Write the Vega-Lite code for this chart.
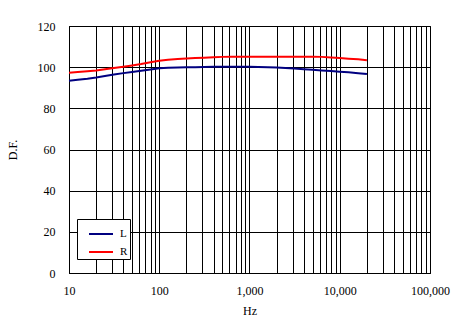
{
  "$schema": "https://vega.github.io/schema/vega-lite/v6.json",
  "width": 361,
  "height": 247,
  "autosize": {"type": "none"},
  "padding": {"left": 69, "top": 26, "right": 30, "bottom": 55},
  "background": "white",
  "config": {
    "font": "Liberation Serif",
    "view": {"stroke": "black", "strokeWidth": 1},
    "axis": {
      "labelFont": "Liberation Serif",
      "titleFont": "Liberation Serif",
      "labelFontSize": 12,
      "titleFontSize": 12,
      "titleFontWeight": "normal",
      "labelColor": "black",
      "titleColor": "black",
      "gridColor": "black",
      "gridOpacity": 1,
      "gridWidth": 1,
      "domainColor": "black",
      "ticks": false
    }
  },
  "data": {
    "values": [
      {"f": 10, "ch": "L", "v": 93.4}, {"f": 12.5, "ch": "L", "v": 93.9}, {"f": 16, "ch": "L", "v": 94.4},
      {"f": 20, "ch": "L", "v": 95.0}, {"f": 25, "ch": "L", "v": 95.7}, {"f": 31.5, "ch": "L", "v": 96.4},
      {"f": 40, "ch": "L", "v": 97.1}, {"f": 50, "ch": "L", "v": 97.7}, {"f": 63, "ch": "L", "v": 98.3},
      {"f": 80, "ch": "L", "v": 98.9}, {"f": 100, "ch": "L", "v": 99.5}, {"f": 125, "ch": "L", "v": 99.7},
      {"f": 160, "ch": "L", "v": 99.8}, {"f": 200, "ch": "L", "v": 99.9}, {"f": 250, "ch": "L", "v": 100.0},
      {"f": 315, "ch": "L", "v": 100.1}, {"f": 400, "ch": "L", "v": 100.2}, {"f": 500, "ch": "L", "v": 100.2},
      {"f": 630, "ch": "L", "v": 100.2}, {"f": 800, "ch": "L", "v": 100.2}, {"f": 1000, "ch": "L", "v": 100.2},
      {"f": 1250, "ch": "L", "v": 100.1}, {"f": 1600, "ch": "L", "v": 100.0}, {"f": 2000, "ch": "L", "v": 99.8},
      {"f": 2500, "ch": "L", "v": 99.6}, {"f": 3150, "ch": "L", "v": 99.3}, {"f": 4000, "ch": "L", "v": 99.0},
      {"f": 5000, "ch": "L", "v": 98.7}, {"f": 6300, "ch": "L", "v": 98.4}, {"f": 8000, "ch": "L", "v": 98.1},
      {"f": 10000, "ch": "L", "v": 97.8}, {"f": 12500, "ch": "L", "v": 97.5}, {"f": 16000, "ch": "L", "v": 97.1},
      {"f": 20000, "ch": "L", "v": 96.7},
      {"f": 10, "ch": "R", "v": 97.3}, {"f": 12.5, "ch": "R", "v": 97.6}, {"f": 16, "ch": "R", "v": 98.0},
      {"f": 20, "ch": "R", "v": 98.4}, {"f": 25, "ch": "R", "v": 99.0}, {"f": 31.5, "ch": "R", "v": 99.6},
      {"f": 40, "ch": "R", "v": 100.2}, {"f": 50, "ch": "R", "v": 100.8}, {"f": 63, "ch": "R", "v": 101.5},
      {"f": 80, "ch": "R", "v": 102.4}, {"f": 100, "ch": "R", "v": 103.1}, {"f": 125, "ch": "R", "v": 103.6},
      {"f": 160, "ch": "R", "v": 104.0}, {"f": 200, "ch": "R", "v": 104.2}, {"f": 250, "ch": "R", "v": 104.4},
      {"f": 315, "ch": "R", "v": 104.6}, {"f": 400, "ch": "R", "v": 104.8}, {"f": 500, "ch": "R", "v": 105.0},
      {"f": 630, "ch": "R", "v": 105.1}, {"f": 800, "ch": "R", "v": 105.1}, {"f": 1000, "ch": "R", "v": 105.1},
      {"f": 1250, "ch": "R", "v": 105.1}, {"f": 1600, "ch": "R", "v": 105.1}, {"f": 2000, "ch": "R", "v": 105.1},
      {"f": 2500, "ch": "R", "v": 105.1}, {"f": 3150, "ch": "R", "v": 105.1}, {"f": 4000, "ch": "R", "v": 105.1},
      {"f": 5000, "ch": "R", "v": 105.1}, {"f": 6300, "ch": "R", "v": 105.0}, {"f": 8000, "ch": "R", "v": 104.7},
      {"f": 10000, "ch": "R", "v": 104.4}, {"f": 12500, "ch": "R", "v": 104.1}, {"f": 16000, "ch": "R", "v": 103.8},
      {"f": 20000, "ch": "R", "v": 103.4}
    ]
  },
  "mark": {"type": "line", "strokeWidth": 2, "interpolate": "linear"},
  "encoding": {
    "x": {
      "field": "f",
      "type": "quantitative",
      "scale": {"type": "log", "domain": [10, 100000], "nice": false},
      "axis": {
        "title": "Hz",
        "titlePadding": 9,
        "labelPadding": 12,
        "labelFlush": false,
        "labelBound": false,
        "labelOverlap": false,
        "values": [10,20,30,40,50,60,70,80,90,100,200,300,400,500,600,700,800,900,1000,2000,3000,4000,5000,6000,7000,8000,9000,10000,20000,30000,40000,50000,60000,70000,80000,90000,100000],
        "labelExpr": "indexof([10,100,1000,10000,100000], datum.value) >= 0 ? format(datum.value, ',') : ''"
      }
    },
    "y": {
      "field": "v",
      "type": "quantitative",
      "scale": {"domain": [0, 120], "nice": false},
      "axis": {
        "title": "D.F.",
        "values": [0, 20, 40, 60, 80, 100, 120],
        "labelPadding": 14,
        "titlePadding": 18
      }
    },
    "color": {
      "field": "ch",
      "type": "nominal",
      "scale": {"domain": ["L", "R"], "range": ["#000080", "#FF0000"]},
      "legend": {
        "title": null,
        "orient": "none",
        "legendX": 8,
        "legendY": 193,
        "strokeColor": "black",
        "fillColor": "white",
        "padding": 2,
        "symbolOffset": 9,
        "symbolType": "stroke",
        "symbolSize": 576,
        "symbolStrokeWidth": 2,
        "labelFont": "Liberation Serif",
        "labelFontSize": 11,
        "labelColor": "black",
        "rowPadding": -5,
        "labelOffset": 6
      }
    }
  }
}
